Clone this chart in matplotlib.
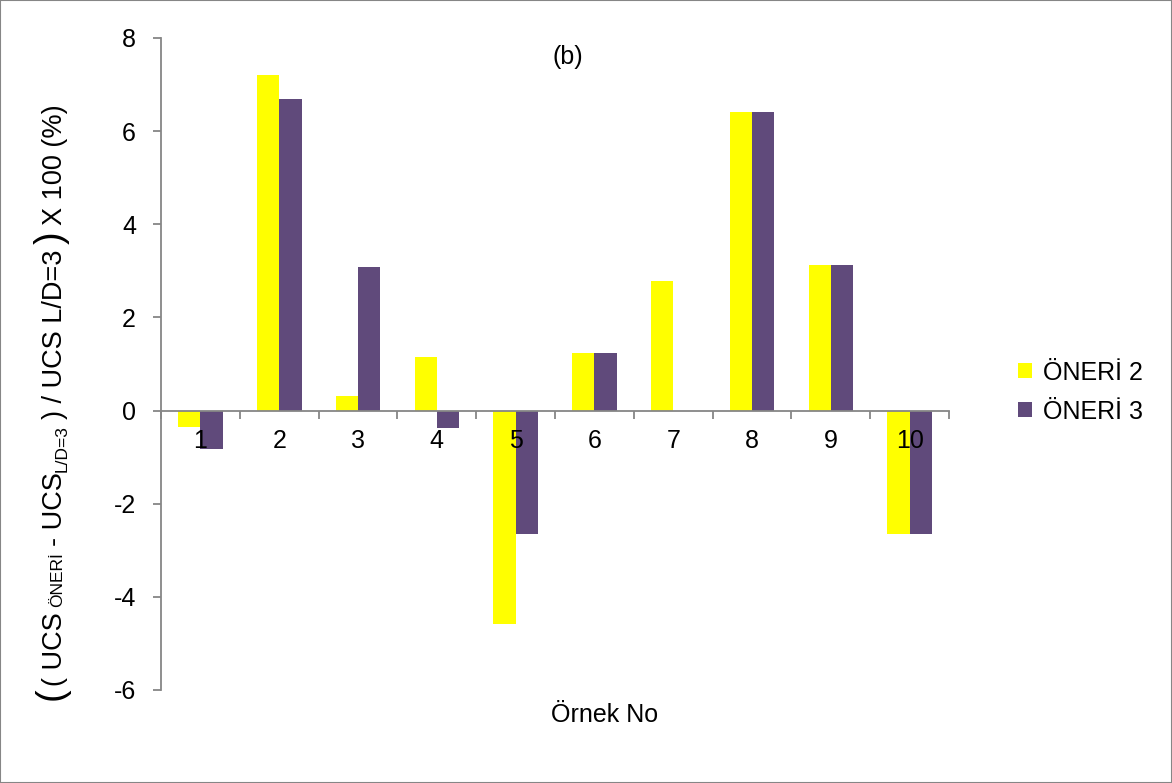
import matplotlib
matplotlib.use("Agg")
import matplotlib.pyplot as plt
import numpy as np
from matplotlib.patches import Rectangle
from matplotlib.transforms import IdentityTransform

plt.rcParams['font.family'] = ['Liberation Sans', 'DejaVu Sans']

samples = ['1', '2', '3', '4', '5', '6', '7', '8', '9', '10']
oneri2 = [-0.35, 7.21, 0.31, 1.15, -4.58, 1.23, 2.78, 6.41, 3.13, -2.65]
oneri3 = [-0.82, 6.69, 3.08, -0.38, -2.65, 1.23, 0.0, 6.41, 3.13, -2.65]
yticks = [-6, -4, -2, 0, 2, 4, 6, 8]

gray = '#868686'
fs = 18

fig = plt.figure(figsize=(11.72, 7.83), dpi=100)
fig.patches.append(Rectangle((0, 0), 1, 1, transform=fig.transFigure,
                             fill=False, edgecolor=gray, linewidth=1.5))
ax = fig.add_axes([0.1374, 0.1188, 0.6724, 0.8327])

x = np.arange(len(samples))
w = 0.283
ax.bar(x - w / 2, oneri2, w, color='#FFFF00', label='ÖNERİ 2')
ax.bar(x + w / 2, oneri3, w, color='#604A7B', label='ÖNERİ 3')

ax.set_xlim(-0.5, len(samples) - 0.5)
ax.set_ylim(-6, 8)
ax.set_yticks(yticks)
ax.set_yticklabels([str(v) for v in yticks])

for s in ['top', 'right']:
    ax.spines[s].set_visible(False)
ax.spines['left'].set_color(gray)
ax.spines['bottom'].set_color(gray)
ax.spines['bottom'].set_position(('data', 0))
ax.spines['left'].set_linewidth(1.3)
ax.spines['bottom'].set_linewidth(1.3)

ax.set_xticks(x)
ax.set_xticklabels(samples)
ax.set_xticks(np.arange(len(samples) + 1) - 0.5, minor=True)
ax.tick_params(axis='x', which='major', length=0, pad=13, labelsize=fs)
ax.tick_params(axis='x', which='minor', length=6, width=1.3, color=gray,
               direction='out')
ax.tick_params(axis='y', length=6, width=1.3, color=gray, labelsize=fs, pad=12)

fig.text(568 / 1172, 1 - 57 / 783, '(b)', fontsize=fs, ha='center', va='center')
fig.text(605 / 1172, 1 - 715 / 783, 'Örnek No', fontsize=fs, ha='center', va='center')

# y label built from pieces (big parens, small ÖNERİ, subscript L/D=3)
lfs = 19.5
pieces = [
    ('(', 27, 0, 1),
    ('( UCS', lfs, 0, 6),
    ('ÖNERİ', 12.5, 0, 6),
    ('- UCS', lfs, 0, 0),
    ('L/D=3', 12.5, 5, 6),
    (') / UCS L/D=3', lfs, 0, 6),
    (')', 27, 0, 6),
    ('X 100 (%)', lfs, 0, 0),
]
renderer = fig.canvas.get_renderer()
pos = 783 - 700
base_x = 62
for txt, size, shift, gap in pieces:
    t = fig.text(base_x + shift, pos, txt, fontsize=size, rotation=90,
                 rotation_mode='anchor', ha='left', va='baseline',
                 transform=IdentityTransform())
    bb = t.get_window_extent(renderer)
    pos += bb.height + gap

ax.legend(loc='center left', bbox_to_anchor=(1.0876, 0.457), frameon=False,
          fontsize=fs, handlelength=0.55, handleheight=0.55, handletextpad=0.45,
          labelspacing=0.6, borderpad=0, borderaxespad=0)

fig.savefig('out.png', dpi=100)
